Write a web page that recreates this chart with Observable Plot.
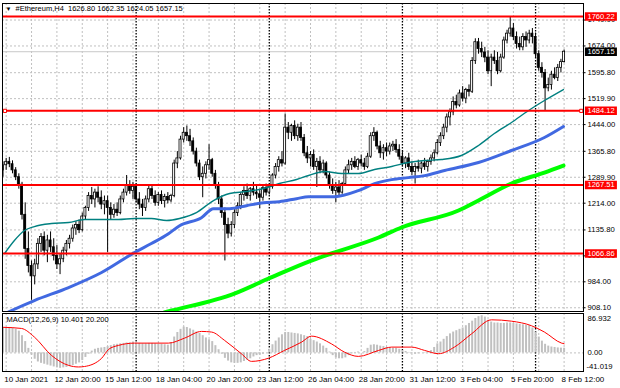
<!DOCTYPE html>
<html><head><meta charset="utf-8">
<script src="https://cdn.jsdelivr.net/npm/d3@7"></script>
<script src="https://cdn.jsdelivr.net/npm/@observablehq/plot@0.6"></script>
<style>
html,body{margin:0;padding:0;background:#fff;}
#chart{position:relative;width:620px;height:388px;background:#fff;overflow:hidden;}
#chart svg{position:absolute;left:0;}
</style></head><body><div id="chart"></div>
<script>
// ---- data (H4 bars from 10 Jan 2021 00:00) ----
const opens = [
1310,1325,1335,1328,1310,1290,1268,1180,1080,1030,
1000,1035,1095,1115,1075,1105,1085,1060,1035,1050,
1075,1095,1110,1140,1150,1135,1175,1200,1235,1225,
1245,1230,1210,1220,1200,1180,1195,1185,1225,1245,
1265,1250,1262,1225,1210,1200,1225,1255,1235,1215,
1238,1220,1232,1222,1235,1330,1345,1400,1420,1410,
1395,1365,1330,1290,1300,1325,1340,1300,1265,1225,
1185,1150,1125,1150,1185,1205,1238,1250,1235,1255,
1245,1240,1230,1258,1245,1262,1295,1320,1340,1330,
1435,1420,1440,1410,1435,1405,1360,1345,1355,1320,
1335,1310,1330,1295,1265,1250,1260,1245,1270,1310,
1325,1335,1320,1340,1330,1320,1350,1410,1420,1380,
1360,1375,1365,1380,1385,1370,1350,1330,1345,1320,
1305,1320,1315,1330,1320,1335,1345,1360,1390,1410,
1435,1465,1480,1510,1500,1535,1520,1545,1540,1630,
1685,1665,1655,1640,1600,1640,1630,1600,1640,1690,
1710,1725,1700,1680,1670,1700,1690,1710,1700,1650,
1610,1595,1550,1560,1590,1580,1610,1626.80];
const highs = [
1335,1345,1348,1338,1318,1300,1275,1215,1130,1045,
1050,1110,1125,1130,1120,1130,1110,1090,1065,1085,
1105,1120,1150,1160,1165,1185,1205,1245,1260,1255,
1262,1250,1235,1235,1215,1210,1215,1235,1255,1295,
1280,1275,1270,1245,1225,1235,1265,1265,1250,1245,
1250,1240,1245,1240,1340,1365,1410,1435,1440,1430,
1405,1375,1340,1320,1335,1385,1345,1310,1275,1235,
1200,1170,1160,1195,1215,1245,1262,1270,1260,1275,
1265,1255,1265,1270,1268,1300,1330,1350,1365,1475,
1450,1445,1455,1445,1450,1415,1380,1365,1370,1345,
1350,1340,1335,1305,1285,1275,1280,1275,1320,1340,
1345,1350,1345,1355,1345,1360,1420,1435,1425,1395,
1385,1390,1390,1395,1400,1385,1365,1350,1360,1335,
1330,1340,1335,1345,1340,1355,1370,1400,1420,1445,
1475,1490,1525,1530,1545,1555,1550,1560,1640,1695,
1696,1685,1670,1660,1650,1660,1655,1650,1700,1720,
1760,1740,1715,1700,1710,1715,1720,1725,1712,1660,
1625,1605,1580,1600,1610,1620,1635,1662.35];
const lows = [
1290,1310,1318,1300,1280,1255,1165,1050,1010,930,
975,1020,1070,1060,1040,1070,1045,1020,1005,1040,
1060,1080,1100,1120,1125,1130,1165,1190,1210,1200,
1215,1195,1180,1070,1165,1170,1175,1180,1215,1235,
1240,1225,1215,1195,1175,1190,1215,1225,1205,1205,
1210,1200,1212,1215,1230,1315,1340,1390,1395,1380,
1355,1320,1280,1230,1285,1310,1290,1255,1210,1170,
1045,1110,1115,1140,1175,1195,1220,1225,1220,1235,
1225,1198,1220,1235,1238,1255,1285,1305,1320,1325,
1400,1395,1400,1395,1395,1350,1330,1320,1310,1260,
1300,1300,1285,1255,1240,1215,1235,1240,1265,1300,
1310,1315,1310,1320,1310,1315,1345,1395,1370,1345,
1340,1350,1355,1365,1360,1340,1320,1315,1310,1295,
1270,1305,1300,1310,1305,1325,1335,1355,1380,1400,
1420,1440,1470,1490,1495,1510,1505,1525,1535,1620,
1650,1640,1625,1590,1555,1620,1590,1595,1635,1680,
1700,1690,1665,1660,1660,1670,1680,1680,1640,1600,
1580,1485,1540,1545,1575,1570,1595,1624.05];
const closes = [
1325,1335,1328,1310,1290,1268,1180,1080,1030,1000,
1035,1095,1115,1075,1105,1085,1060,1035,1050,1075,
1095,1110,1140,1150,1135,1175,1200,1235,1225,1245,
1230,1210,1220,1200,1180,1195,1185,1225,1245,1265,
1250,1262,1225,1210,1200,1225,1255,1235,1215,1238,
1220,1232,1222,1235,1330,1345,1400,1420,1410,1395,
1365,1330,1290,1300,1325,1340,1300,1265,1225,1185,
1150,1125,1150,1185,1205,1238,1250,1235,1255,1245,
1240,1230,1258,1245,1262,1295,1320,1340,1330,1435,
1420,1440,1410,1435,1405,1360,1345,1355,1320,1335,
1310,1330,1295,1265,1250,1260,1245,1270,1310,1325,
1335,1320,1340,1330,1320,1350,1410,1420,1380,1360,
1375,1365,1380,1385,1370,1350,1330,1345,1320,1305,
1320,1315,1330,1320,1335,1345,1360,1390,1410,1435,
1465,1480,1510,1500,1535,1520,1545,1540,1630,1685,
1665,1655,1640,1600,1640,1630,1600,1640,1690,1710,
1725,1700,1680,1670,1700,1690,1710,1700,1650,1610,
1595,1550,1560,1590,1580,1610,1626.80,1657.15];

// moving averages read at points (bar position, price)
const tealBars = [0.5,3.6,6.8,9.9,15.3,20.7,25.7,31.1,36.4,41.5,46.8,51.6,55.7,61.0,66.4,71.5,76.8,82.2,87.2,92.6,96.4,101.4,106.8,112.1,117.2,122.6,127.9,133.0,138.3,144.6,150.0,155.0,160.4,165.8,170.8,176.8];
const tealVals = [1066.8,1104.8,1134.0,1145.7,1154.5,1157.4,1166.2,1166.2,1166.2,1169.1,1169.1,1163.3,1169.1,1186.7,1221.8,1242.3,1248.2,1257.0,1271.6,1283.3,1295.0,1306.7,1300.9,1300.9,1312.6,1321.4,1333.1,1338.9,1341.9,1353.6,1382.9,1417.8,1450.1,1485.2,1514.4,1546.6];
const blueBars = [0.0,2.7,9.9,20.7,31.1,41.5,46.8,52.2,55.7,62.6,66.4,71.5,76.8,82.2,87.2,92.6,96.4,101.4,104.6,112.1,117.2,122.6,127.9,133.0,139.3,150.0,160.4,170.8,176.8];
const blueVals = [888,900,929.2,967.2,1011.1,1069.7,1096.0,1124.8,1148.2,1171.6,1198.0,1198.0,1206.8,1215.5,1218.5,1227.3,1233.1,1233.1,1233.1,1250.7,1271.1,1282.9,1288.8,1294.6,1309.6,1333.0,1368.1,1406.2,1438.4];
const greenBars = [50.9,53.2,73.0,83.8,97.3,103.6,118.5,125.7,143.7,150.0,160.4,170.8,176.8];
const greenVals = [894.6,900.0,949.7,993.6,1046.3,1066.8,1113.6,1142.9,1192.6,1221.8,1271.6,1303.7,1324.2];

// horizontal levels and axis ticks
const levels = [1760.22, 1484.12, 1267.51, 1066.86];
const selectedLevel = [1484.12];
const priceTicks = [908.10, 984.00, 1059.90, 1135.80, 1214.00, 1289.90, 1365.80, 1444.00, 1519.90, 1595.80, 1674.00, 1749.90];
const lastPrice = [1657.15];

// MACD(12,26,9)
const macdMain = [
55,56,55,54,52,48,38,25,10,-5,
-14,-20,-23,-25,-27,-29,-31,-33,-34,-33,
-32,-30,-28,-25,-22,-17,-10,-3,4,8,
10,11,12,14,16,18,19,20,21,22,
22,23,22,21,20,20,21,21,20,19,
19,18,17,22,35,45,52,57,56,53,
50,46,43,38,33,29,25,16,7,-3,
-12,-18,-22,-23,-23,-22,-19,-16,-13,-9,
-6,-5,-3,0,8,18,26,33,40,45,
45,44,43,42,40,38,36,30,27,24,
20,15,10,2,-6,-11,-13,-13,-11,-6,
-2,1,2,0,3,10,17,18,17,15,
14,12,11,10,10,8,5,3,1,-1,
-3,-2,0,1,2,5,12,20,24,30,
36,42,46,49,52,55,60,65,70,76,
80,82,79,72,68,66,66,65,65,66,
66,65,64,63,62,61,60,55,46,35,
26,19,15,13,12,11,10.5,10.401];
const signalBars = [0,5.8,9.9,15.3,20.7,23.8,25.7,31.1,33.3,36.4,41.5,52.2,57.3,62.6,65.8,69.9,75.2,78.4,83.8,88.8,94.2,97.3,103.6,107.7,112.1,118.5,122.6,128.9,133.0,137.4,142.4,147.8,154.1,160.4,166.7,170.8,176.2,177];
const signalVals = [56.5,54,35,-5.5,-27.6,-31,-30,-12,7.7,16.5,21.6,21.6,32.7,47.4,46,27.6,-1.8,-18.7,-11.5,5.5,23.8,37,20,1.8,-7.7,5.5,12.8,12.8,5.5,-1.8,12.8,42,73,70,60,46,21.6,20.2];
const macdTicks = [86.932, 0, -41.019];

// time axis
const timeLabels = ["10 Jan 2021","12 Jan 20:00","15 Jan 12:00","18 Jan 04:00","20 Jan 20:00","23 Jan 12:00","26 Jan 04:00","28 Jan 20:00","31 Jan 12:00","3 Feb 04:00","5 Feb 20:00","8 Feb 12:00"];
const timeLabelBars = [0,17,33,49,65,81,97,113,129,145,161,177];
const gridBars = [1,9,17,25,33,41,49,57,65,73,81,89,97,105,113,121,129,137,145,153,161,169,177];
const weekBars = [42,84,126,168];

const titleText = "#Ethereum,H4  1626.80 1662.35 1624.05 1657.15";
const macdTitle = "MACD(12,26,9) 10.401 20.200";

// ---- build ----
const candles = closes.map((c, i) => ({i, open: opens[i], high: highs[i], low: lows[i], close: c}));
const bull = candles.filter(d => d.close >= d.open);
const bear = candles.filter(d => d.close < d.open);
const teal = tealBars.map((b, k) => ({b, v: tealVals[k]}));
const blue = blueBars.map((b, k) => ({b, v: blueVals[k]}));
const green = greenBars.map((b, k) => ({b, v: greenVals[k]}));
const macd = macdMain.map((v, i) => ({i, v}));
const signal = signalBars.map((b, k) => ({b, v: signalVals[k]}));
const timeItems = timeLabels.map((t, k) => ({t, b: timeLabelBars[k]}));

const X0 = -0.158, X1 = 183.12; // bar-index domain
const FONT = "'Liberation Sans', Arial, sans-serif";
const gridStyle = {stroke: "#c0c0c0", strokeDasharray: "2,2", strokeWidth: 1};
const sepStyle = {stroke: "#000", strokeDasharray: "1.5,1.5", strokeWidth: 1.3};
const BW = 0.32;

const main = Plot.plot({
  width: 620, height: 312,
  marginLeft: 2, marginRight: 37, marginTop: 3, marginBottom: 1,
  x: {domain: [X0, X1], axis: null},
  y: {domain: [897.14, 1798.25], axis: null},
  style: {fontFamily: FONT, fontSize: "7.8px", background: "transparent", overflow: "visible"},
  marks: [
    Plot.ruleY(priceTicks, {y: d => d, ...gridStyle}),
    Plot.ruleX(gridBars, {x: d => d, ...gridStyle}),
    Plot.ruleX(weekBars, {x: d => d, ...sepStyle}),
    Plot.ruleY(lastPrice, {y: d => d, stroke: "#c8c8c8", strokeWidth: 1}),
    Plot.ruleX(candles, {x: "i", y1: "low", y2: "high", stroke: "#000", strokeWidth: 1, clip: true}),
    Plot.rect(bull, {x1: d => d.i - BW, x2: d => d.i + BW, y1: "open", y2: "close", fill: "#fff", stroke: "#000", strokeWidth: 0.8, clip: true}),
    Plot.rect(bear, {x1: d => d.i - BW, x2: d => d.i + BW, y1: "open", y2: "close", fill: "#000", stroke: "#000", strokeWidth: 0.8, clip: true}),
    Plot.line(green, {x: "b", y: "v", stroke: "#00ff00", strokeWidth: 4, curve: "monotone-x", clip: true}),
    Plot.line(blue, {x: "b", y: "v", stroke: "#4169e1", strokeWidth: 3, curve: "monotone-x", clip: true}),
    Plot.line(teal, {x: "b", y: "v", stroke: "#008080", strokeWidth: 1.4, curve: "monotone-x", clip: true}),
    Plot.ruleY(levels, {y: d => d, stroke: "#ff0000", strokeWidth: 2}),
    Plot.dot(selectedLevel, {x: X0 + 0.75, y: d => d, symbol: "square", r: 1.8, stroke: "#ff0000", fill: "#fff", strokeWidth: 1}),
    Plot.dot(selectedLevel, {x: X1 - 0.7, y: d => d, symbol: "square", r: 1.8, stroke: "#ff0000", fill: "#fff", strokeWidth: 1}),
    Plot.frame({stroke: "#000", strokeWidth: 1}),
    // right price axis
    Plot.ruleY(priceTicks, {y: d => d, x1: X1, x2: X1 + 0.8, stroke: "#000"}),
    Plot.text(priceTicks, {x: X1, y: d => d, text: d => d.toFixed(2), dx: 4, textAnchor: "start", fill: "#000", fontSize: 7.7}),
    Plot.ruleY(levels, {y: d => d, x1: X1 + 0.6, x2: X1 + 10.7, stroke: "#ff0000", strokeWidth: 8.5}),
    Plot.text(levels, {x: X1, y: d => d, text: d => d.toFixed(2), dx: 4, textAnchor: "start", fill: "#fff", fontSize: 7.5}),
    Plot.ruleY(lastPrice, {y: d => d, x1: X1 + 0.6, x2: X1 + 10.7, stroke: "#000", strokeWidth: 8.5}),
    Plot.text(lastPrice, {x: X1, y: d => d, text: d => d.toFixed(2), dx: 4, textAnchor: "start", fill: "#fff", fontSize: 7.5}),
    // title
    Plot.text(["▼"], {frameAnchor: "top-left", dx: 3, dy: 5.5, lineAnchor: "middle", textAnchor: "start", fontSize: 6, fill: "#000"}),
    Plot.text([titleText], {frameAnchor: "top-left", dx: 13, dy: 5.5, lineAnchor: "middle", textAnchor: "start", fontSize: 7.5, fill: "#000"})
  ]
});
main.style.top = "0px";

const sub = Plot.plot({
  width: 620, height: 76,
  marginLeft: 2, marginRight: 37, marginTop: 1, marginBottom: 17,
  x: {domain: [X0, X1], axis: null},
  y: {domain: [-41.019, 86.932], axis: null},
  style: {fontFamily: FONT, fontSize: "7.8px", background: "transparent", overflow: "visible"},
  marks: [
    Plot.ruleX(gridBars, {x: d => d, ...gridStyle}),
    Plot.ruleY([0], {y: d => d, ...gridStyle}),
    Plot.ruleX(weekBars, {x: d => d, ...sepStyle}),
    Plot.ruleX(macd, {x: "i", y1: 0, y2: "v", stroke: "#c0c0c0", strokeWidth: 2, clip: true}),
    Plot.line(signal, {x: "b", y: "v", stroke: "#ff0000", strokeWidth: 1, curve: "monotone-x", clip: true}),
    Plot.frame({stroke: "#000", strokeWidth: 1}),
    Plot.text([macdTitle], {frameAnchor: "top-left", dx: 4, dy: 6, lineAnchor: "middle", textAnchor: "start", fontSize: 7.5, fill: "#000"}),
    Plot.text([macdTicks[0]], {x: X1, y: d => d, text: d => d.toFixed(3), dx: 4, dy: 5, textAnchor: "start", fill: "#000", fontSize: 7.7}),
    Plot.text([macdTicks[1]], {x: X1, y: d => d, text: d => d.toFixed(2), dx: 4, textAnchor: "start", fill: "#000", fontSize: 7.7}),
    Plot.text([macdTicks[2]], {x: X1, y: d => d, text: d => d.toFixed(3), dx: 3, dy: -5, textAnchor: "start", fill: "#000", fontSize: 7.7}),
    Plot.text(timeItems.slice(0, 1), {x: "b", text: "t", frameAnchor: "bottom", dy: 7.5, dx: 1.2, lineAnchor: "middle", textAnchor: "start", fill: "#000", fontSize: 8}),
    Plot.text(timeItems.slice(1), {x: "b", text: "t", frameAnchor: "bottom", dy: 7.5, dx: -2.5, lineAnchor: "middle", textAnchor: "start", fill: "#000", fontSize: 8})
  ]
});
sub.style.top = "312px";

const root = document.getElementById("chart");
root.appendChild(main);
root.appendChild(sub);
</script>
</body></html>
